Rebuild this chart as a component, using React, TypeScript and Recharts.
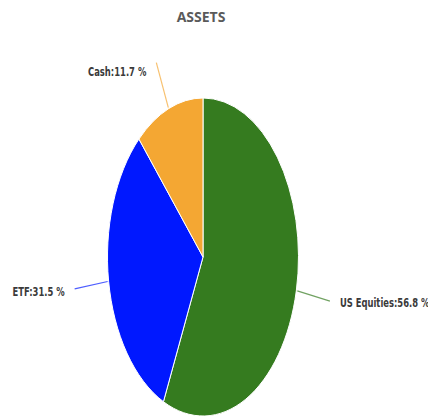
import { PieChart, Pie, Cell } from 'recharts'

const names = ['US Equities', 'ETF', 'Cash']
const shares = [56.8, 31.5, 11.7]
const colors = ['#357B1F', '#0018FF', '#F4A733']

const data = names.map((name, i) => ({ name, value: shares[i] }))

const CX = 203
const CY = 257
const RX = 95.5
const STRETCH = 1.665
const RAD = Math.PI / 180

const FONT = '"DejaVu Sans", sans-serif'

function renderLabel(props: any) {
  const { cx, cy, midAngle, outerRadius, index, payload } = props
  const ry = outerRadius * STRETCH
  const c = Math.cos(-midAngle * RAD)
  const s = Math.sin(-midAngle * RAD)
  const x1 = cx + (outerRadius + 1) * c
  const y1 = cy + (ry + 1) * s
  const x2 = cx + outerRadius * 1.36 * c
  const y2 = cy + ry * 1.31 * s
  const left = x2 < cx
  const tx = x2 + (left ? -10 : 10)
  const ty = y2 + 3 + 6 * Math.sin(midAngle * RAD)
  return (
    <g key={`lbl-${index}`}>
      <path d={`M${x1},${y1}L${x2},${y2}`} stroke={colors[index]} strokeOpacity={0.7} fill="none" strokeWidth={1.2} />
      <text
        transform={`translate(${tx},${ty}) scale(0.72,1)`}
        x={0}
        y={0}
        textAnchor={left ? 'end' : 'start'}
        dominantBaseline="central"
        fill="#3a3a3a"
        fontFamily={FONT}
        fontSize={13}
        fontWeight="bold"
        style={{ fontStretch: 'condensed' }}
      >
        {`${payload.name}:${payload.value} %`}
      </text>
    </g>
  )
}

export default function App() {
  return (
    <div style={{ position: 'absolute', left: 0, top: 0, width: 428, height: 418, background: '#fff' }}>
      <style>{`
        .recharts-pie-sector { transform: scaleY(${STRETCH}); transform-origin: ${CX}px ${CY}px; }
        .recharts-pie-sector path { vector-effect: non-scaling-stroke; }
      `}</style>
      <div
        style={{
          position: 'absolute',
          left: 0,
          top: 8,
          width: 402,
          textAlign: 'center',
          fontFamily: '"Open Sans", sans-serif',
          fontWeight: 'bold',
          fontSize: 14,
          color: '#5a5a5a',
          lineHeight: '18px',
        }}
      >
        ASSETS
      </div>
      <PieChart width={428} height={418} margin={{ top: 0, right: 0, bottom: 0, left: 0 }}>
        <Pie
          data={data}
          dataKey="value"
          nameKey="name"
          cx={CX}
          cy={CY}
          outerRadius={RX}
          startAngle={90}
          endAngle={-270}
          stroke="#fff"
          strokeWidth={1}
          label={renderLabel}
          labelLine={false}
          isAnimationActive={false}
        >
          {data.map((d, i) => (
            <Cell key={d.name} fill={colors[i]} />
          ))}
        </Pie>
      </PieChart>
    </div>
  )
}
